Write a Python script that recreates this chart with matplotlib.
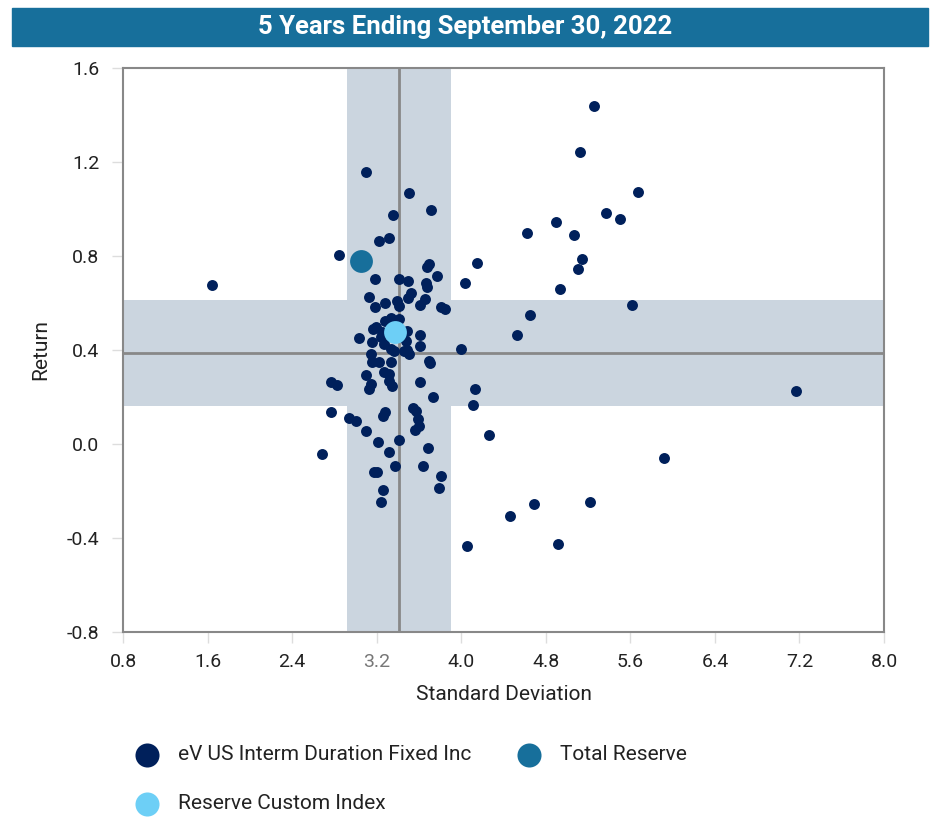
import numpy as np
import matplotlib
matplotlib.use("Agg")
import matplotlib.pyplot as plt
from matplotlib.patches import Rectangle

plt.rcParams['font.family'] = ['Roboto', 'DejaVu Sans']

# eV US Interm Duration Fixed Inc universe (std dev, return)
universe_sd = [1.643, 5.252, 5.120, 5.669, 4.892, 5.366, 5.499, 4.627, 5.063, 5.139,
               5.101, 4.930, 5.612, 4.646, 4.532, 4.040, 4.154, 4.002, 7.166, 4.135,
               4.116, 4.267, 5.916, 5.215, 4.684, 4.457, 4.059, 4.911, 2.685,
               2.846, 2.770, 2.827, 2.770, 2.941, 3.007, 3.102, 3.509, 3.718, 3.358,
               3.320, 3.225, 3.680, 3.699, 3.187, 3.415, 3.500, 3.775, 3.670, 3.680,
               3.130, 3.187, 3.282, 3.396, 3.415, 3.500, 3.528, 3.614, 3.661, 3.812,
               3.850, 3.282, 3.339, 3.415, 3.197, 3.168, 3.254, 3.244, 3.036, 3.490,
               3.614, 3.159, 3.273, 3.339, 3.481, 3.490, 3.614, 3.149, 3.367, 3.462,
               3.509, 3.159, 3.225, 3.339, 3.699, 3.708, 3.102, 3.273, 3.320, 3.320,
               3.348, 3.149, 3.130, 3.614, 3.737, 3.282, 3.263, 3.547, 3.576, 3.595,
               3.604, 3.566, 3.102, 3.415, 3.216, 3.689, 3.320, 3.642, 3.377, 3.178,
               3.206, 3.812, 3.263, 3.794, 3.244]
universe_ret = [0.677, 1.438, 1.243, 1.072, 0.945, 0.983, 0.957, 0.898, 0.889, 0.787,
                0.745, 0.660, 0.591, 0.549, 0.464, 0.685, 0.770, 0.404, 0.226, 0.234,
                0.166, 0.038, -0.060, -0.247, -0.255, -0.306, -0.434, -0.426, -0.043,
                0.804, 0.264, 0.251, 0.136, 0.111, 0.098, 1.157, 1.068, 0.996, 0.974,
                0.877, 0.864, 0.753, 0.766, 0.702, 0.702, 0.694, 0.715, 0.685, 0.668,
                0.626, 0.583, 0.600, 0.609, 0.587, 0.621, 0.643, 0.591, 0.617, 0.583,
                0.574, 0.523, 0.536, 0.532, 0.498, 0.489, 0.477, 0.455, 0.451, 0.481,
                0.464, 0.434, 0.426, 0.404, 0.438, 0.400, 0.417, 0.383, 0.396, 0.396,
                0.383, 0.349, 0.349, 0.349, 0.353, 0.345, 0.294, 0.306, 0.298, 0.268,
                0.247, 0.255, 0.234, 0.264, 0.200, 0.136, 0.119, 0.153, 0.140, 0.106,
                0.077, 0.060, 0.055, 0.017, 0.009, -0.017, -0.034, -0.094, -0.094, -0.119,
                -0.119, -0.136, -0.196, -0.187, -0.247]

total_reserve = (3.055, 0.779)
custom_index = (3.377, 0.477)

# universe median and quartile bands
median_sd, median_ret = 3.41, 0.388
sd_band = (2.919, 3.904)
ret_band = (0.163, 0.613)

x_ticks = [0.8, 1.6, 2.4, 3.2, 4.0, 4.8, 5.6, 6.4, 7.2, 8.0]
y_ticks = [-0.8, -0.4, 0.0, 0.4, 0.8, 1.2, 1.6]

NAVY = "#00205B"
TEAL = "#176F9B"
LIGHT = "#6DCFF6"
BAND = "#CBD5DF"

fig = plt.figure(figsize=(9.3, 8.19), dpi=100)

# title bar
fig.patches.append(Rectangle((12 / 930, 1 - 46 / 819), 916 / 930, 38 / 819,
                             transform=fig.transFigure, color=TEAL, zorder=0))
fig.text(0.5, 1 - 27 / 819, "5 Years Ending September 30, 2022", ha="center", va="center",
         color="white", fontsize=18.5, fontweight="bold")

ax = fig.add_axes([123 / 930, 1 - 632 / 819, 761 / 930, 564 / 819])
ax.set_xlim(0.8, 8.0)
ax.set_ylim(-0.8, 1.6)

ax.axvspan(sd_band[0], sd_band[1], color=BAND, lw=0, zorder=1)
ax.axhspan(ret_band[0], ret_band[1], color=BAND, lw=0, zorder=1)
ax.axvline(median_sd, color="#888888", lw=2, zorder=2)
ax.axhline(median_ret, color="#888888", lw=2, zorder=2)

h1 = ax.scatter(universe_sd, universe_ret, s=62, color=NAVY, lw=0, zorder=3,
                label="eV US Interm Duration Fixed Inc")
h2 = ax.scatter([total_reserve[0]], [total_reserve[1]], s=270, color=TEAL, lw=0, zorder=4,
                label="Total Reserve")
h3 = ax.scatter([custom_index[0]], [custom_index[1]], s=270, color=LIGHT, lw=0, zorder=4,
                label="Reserve Custom Index")

ax.set_xticks(x_ticks)
ax.set_yticks(y_ticks)
ax.set_xticklabels([f"{v:.1f}" for v in x_ticks])
ax.set_yticklabels([f"{v:.1f}" for v in y_ticks])
ax.tick_params(axis="both", length=8, width=1, color="#DDDDDD", labelsize=14,
               labelcolor="#222222")
ax.tick_params(axis="y", pad=9)
ax.tick_params(axis="x", pad=7)
ax.get_xticklabels()[3].set_color("#777777")
for sp in ax.spines.values():
    sp.set_color("#888888")
    sp.set_linewidth(1.5)

ax.set_xlabel("Standard Deviation", fontsize=15, color="#222222", labelpad=10)
ax.set_ylabel("Return", fontsize=15, color="#222222", labelpad=12)

leg = fig.legend(handles=[h1, h3, h2], loc="upper left", bbox_to_anchor=(0.116, 0.113),
                 ncol=2, frameon=False, fontsize=15,
                 handletextpad=0.45, columnspacing=1.8, labelspacing=1.45)
for h in leg.legend_handles:
    h.set_sizes([300])
for t in leg.get_texts():
    t.set_color("#222222")

fig.savefig("out.png", dpi=100)
